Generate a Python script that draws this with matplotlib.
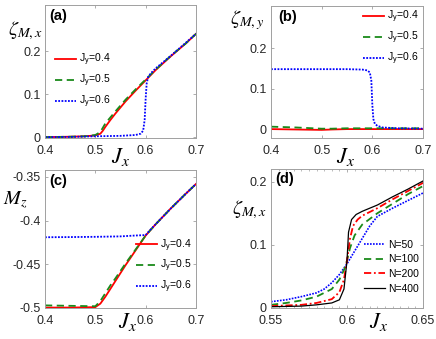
#!/usr/bin/env python3

import matplotlib
matplotlib.use("Agg")
import matplotlib.pyplot as plt
from matplotlib.ticker import MultipleLocator

plt.rcParams["font.family"] = ["Liberation Sans", "DejaVu Sans"]
plt.rcParams["mathtext.fontset"] = "stix"

# panel (a): zeta_{M,x} vs J_x
a_x = [0.40, 0.45, 0.48, 0.50, 0.51, 0.515, 0.52, 0.53, 0.54, 0.56, 0.58, 0.60, 0.62, 0.65, 0.68, 0.70]
a_y04 = [0.000, 0.001, 0.002, 0.004, 0.008, 0.015, 0.024, 0.040, 0.055, 0.083, 0.108, 0.132, 0.156, 0.188, 0.218, 0.240]
a_y05 = [0.000, 0.001, 0.002, 0.005, 0.012, 0.022, 0.032, 0.046, 0.060, 0.087, 0.111, 0.134, 0.157, 0.189, 0.218, 0.240]
a_x06 = [0.40, 0.45, 0.50, 0.55, 0.58, 0.59, 0.595, 0.598, 0.600, 0.602, 0.605, 0.61, 0.62, 0.65, 0.70]
a_y06 = [0.000, 0.0005, 0.002, 0.003, 0.005, 0.008, 0.015, 0.040, 0.090, 0.125, 0.140, 0.148, 0.160, 0.189, 0.240]

# panel (b): zeta_{M,y} vs J_x
b_x = [0.40, 0.45, 0.50, 0.52, 0.55, 0.60, 0.65, 0.70]
b_y04 = [0.000, -0.001, -0.002, -0.001, 0.000, 0.000, 0.000, 0.000]
b_y05 = [0.006, 0.004, 0.001, 0.001, 0.002, 0.002, 0.002, 0.002]
b_x06 = [0.40, 0.45, 0.50, 0.55, 0.58, 0.59, 0.595, 0.598, 0.600, 0.602, 0.605, 0.61, 0.62, 0.65, 0.70]
b_y06 = [0.148, 0.148, 0.148, 0.148, 0.147, 0.145, 0.140, 0.120, 0.060, 0.025, 0.013, 0.008, 0.004, 0.002, 0.001]

# panel (c): M_z vs J_x
c_x = [0.40, 0.45, 0.50, 0.51, 0.52, 0.53, 0.54, 0.56, 0.58, 0.60, 0.62, 0.65, 0.68, 0.70]
c_y04 = [-0.4995, -0.4995, -0.499, -0.495, -0.487, -0.478, -0.469, -0.451, -0.434, -0.417, -0.404, -0.386, -0.369, -0.358]
c_y05 = [-0.497, -0.4975, -0.498, -0.492, -0.483, -0.474, -0.466, -0.449, -0.433, -0.417, -0.404, -0.386, -0.369, -0.358]
c_x06 = [0.40, 0.45, 0.50, 0.55, 0.58, 0.60, 0.61, 0.62, 0.65, 0.68, 0.70]
c_y06 = [-0.419, -0.4188, -0.4185, -0.418, -0.417, -0.4165, -0.410, -0.404, -0.386, -0.369, -0.358]

# panel (d): zeta_{M,x} vs J_x for several N
d_x50 = [0.55, 0.56, 0.57, 0.58, 0.585, 0.59, 0.595, 0.60, 0.605, 0.61, 0.615, 0.62, 0.63, 0.64, 0.65]
d_y50 = [0.010, 0.013, 0.018, 0.024, 0.030, 0.040, 0.053, 0.070, 0.090, 0.110, 0.130, 0.145, 0.158, 0.170, 0.182]
d_x100 = [0.55, 0.56, 0.57, 0.58, 0.59, 0.595, 0.598, 0.60, 0.602, 0.605, 0.61, 0.62, 0.63, 0.64, 0.65]
d_y100 = [0.005, 0.008, 0.012, 0.018, 0.030, 0.045, 0.060, 0.075, 0.095, 0.115, 0.132, 0.150, 0.165, 0.180, 0.193]
d_x200 = [0.55, 0.57, 0.58, 0.59, 0.595, 0.598, 0.60, 0.602, 0.604, 0.607, 0.61, 0.62, 0.63, 0.64, 0.65]
d_y200 = [0.003, 0.005, 0.008, 0.014, 0.025, 0.045, 0.075, 0.110, 0.130, 0.140, 0.146, 0.158, 0.172, 0.185, 0.198]
d_x400 = [0.55, 0.57, 0.58, 0.59, 0.595, 0.598, 0.60, 0.601, 0.603, 0.606, 0.61, 0.62, 0.63, 0.64, 0.65]
d_y400 = [0.002, 0.003, 0.005, 0.008, 0.013, 0.030, 0.075, 0.120, 0.140, 0.148, 0.153, 0.163, 0.176, 0.188, 0.201]

jy_labels = [r"J$_\mathregular{y}$=0.4", r"J$_\mathregular{y}$=0.5", r"J$_\mathregular{y}$=0.6"]
n_labels = ["N=50", "N=100", "N=200", "N=400"]

RED = "#ff0000"
GREEN = "#1a8a1a"
BLUE = "#0000ff"

W, H = 436, 339


def make_ax(fig, left, top, right, bottom):
    ax = fig.add_axes([left / W, 1 - bottom / H, (right - left) / W, (bottom - top) / H])
    for s in ax.spines.values():
        s.set_color("#a0a0a0")
        s.set_linewidth(0.7)
    ax.tick_params(direction="in", length=2.5, width=0.6, color="#a0a0a0",
                   labelsize=9, labelcolor="#262626", top=True, right=True, pad=3)
    ax.tick_params(axis="x", pad=5)
    return ax


def style_legend(ax, **kw):
    leg = ax.legend(frameon=False, fontsize=7.5, handlelength=2.0, handletextpad=0.3,
                    labelspacing=0.45, borderaxespad=0.3, **kw)
    return leg


def main():
    fig = plt.figure(figsize=(W / 100, H / 100), dpi=100)

    # (a)
    ax = make_ax(fig, 45, 5, 196, 138)
    ax.plot(a_x, a_y04, color=RED, lw=1.3, label=jy_labels[0])
    ax.plot(a_x, a_y05, color=GREEN, lw=1.3, ls=(0, (4, 2.5)), label=jy_labels[1])
    ax.plot(a_x06, a_y06, color=BLUE, lw=1.3, ls=(0, (1, 0.8)), label=jy_labels[2])
    ax.set_xlim(0.4, 0.7)
    ax.set_ylim(-0.002, 0.307)
    ax.set_xticks([0.4, 0.5, 0.6, 0.7], ["0.4", "0.5", "0.6", "0.7"])
    ax.set_yticks([0, 0.1, 0.2], ["0", "0.1", "0.2"])
    style_legend(ax, loc="upper left", bbox_to_anchor=(0.02, 0.7))
    ax.text(0.03, 0.97, "(a)", transform=ax.transAxes, fontsize=10.5, fontweight="bold", va="top")
    fig.text(25 / W, 1 - 31 / H, r"$\zeta_{M,x}$", fontsize=14.5, ha="center", va="center")
    fig.text(120 / W, 1 - 157 / H, r"$J_x$", fontsize=16, ha="center", va="center")

    # (b)
    ax = make_ax(fig, 271, 6, 423, 138)
    ax.plot(b_x, b_y04, color=RED, lw=1.3, label=jy_labels[0])
    ax.plot(b_x, b_y05, color=GREEN, lw=1.3, ls=(0, (4, 2.5)), label=jy_labels[1])
    ax.plot(b_x06, b_y06, color=BLUE, lw=1.3, ls=(0, (1, 0.8)), label=jy_labels[2])
    ax.set_xlim(0.4, 0.7)
    ax.set_ylim(-0.022, 0.304)
    ax.set_xticks([0.4, 0.5, 0.6, 0.7], ["0.4", "0.5", "0.6", "0.7"])
    ax.set_yticks([0, 0.1, 0.2], ["0", "0.1", "0.2"])
    style_legend(ax, loc="upper right", bbox_to_anchor=(1.02, 1.03))
    ax.text(0.05, 0.97, "(b)", transform=ax.transAxes, fontsize=10.5, fontweight="bold", va="top")
    fig.text(247 / W, 1 - 20 / H, r"$\zeta_{M,y}$", fontsize=14.5, ha="center", va="center")
    fig.text(345 / W, 1 - 157 / H, r"$J_x$", fontsize=16, ha="center", va="center")

    # (c)
    ax = make_ax(fig, 45, 170, 196, 308)
    ax.plot(c_x, c_y04, color=RED, lw=1.3, label=jy_labels[0])
    ax.plot(c_x, c_y05, color=GREEN, lw=1.3, ls=(0, (4, 2.5)), label=jy_labels[1])
    ax.plot(c_x06, c_y06, color=BLUE, lw=1.3, ls=(0, (1, 0.8)), label=jy_labels[2])
    ax.set_xlim(0.4, 0.7)
    ax.set_ylim(-0.5, -0.342)
    ax.set_xticks([0.4, 0.5, 0.6, 0.7], ["0.4", "0.5", "0.6", "0.7"])
    ax.set_yticks([-0.5, -0.45, -0.4, -0.35], ["-0.5", "-0.45", "-0.4", "-0.35"])
    style_legend(ax, loc="lower right", bbox_to_anchor=(1.02, 0.04))
    ax.text(0.03, 0.97, "(c)", transform=ax.transAxes, fontsize=10.5, fontweight="bold", va="top")
    fig.text(15 / W, 1 - 200 / H, r"$M_z$", fontsize=14.5, ha="center", va="center")
    fig.text(127 / W, 1 - 322 / H, r"$J_x$", fontsize=16, ha="center", va="center")

    # (d)
    ax = make_ax(fig, 271, 169, 423, 308)
    ax.plot(d_x50, d_y50, color=BLUE, lw=1.2, ls=(0, (1, 0.8)), label=n_labels[0])
    ax.plot(d_x100, d_y100, color=GREEN, lw=1.3, ls=(0, (4, 2.5)), label=n_labels[1])
    ax.plot(d_x200, d_y200, color=RED, lw=1.3, ls=(0, (4, 1.5, 1, 1.5)), label=n_labels[2])
    ax.plot(d_x400, d_y400, color="black", lw=0.9, label=n_labels[3])
    ax.set_xlim(0.55, 0.65)
    ax.set_ylim(0, 0.22)
    ax.set_xticks([0.55, 0.6, 0.65], ["0.55", "0.6", "0.65"])
    ax.xaxis.set_minor_locator(MultipleLocator(0.005))
    ax.tick_params(which="minor", direction="in", length=1.5, width=0.5, color="#a0a0a0",
                   top=True, bottom=True)
    ax.set_yticks([0, 0.1, 0.2], ["0", "0.1", "0.2"])
    style_legend(ax, loc="lower right", bbox_to_anchor=(1.02, 0.05))
    ax.text(0.03, 0.98, "(d)", transform=ax.transAxes, fontsize=10.5, fontweight="bold", va="top")
    fig.text(249 / W, 1 - 210 / H, r"$\zeta_{M,x}$", fontsize=14.5, ha="center", va="center")
    fig.text(378 / W, 1 - 322 / H, r"$J_x$", fontsize=16, ha="center", va="center")

    fig.savefig("out.png", dpi=100)
    plt.close(fig)


if __name__ == "__main__":
    main()
